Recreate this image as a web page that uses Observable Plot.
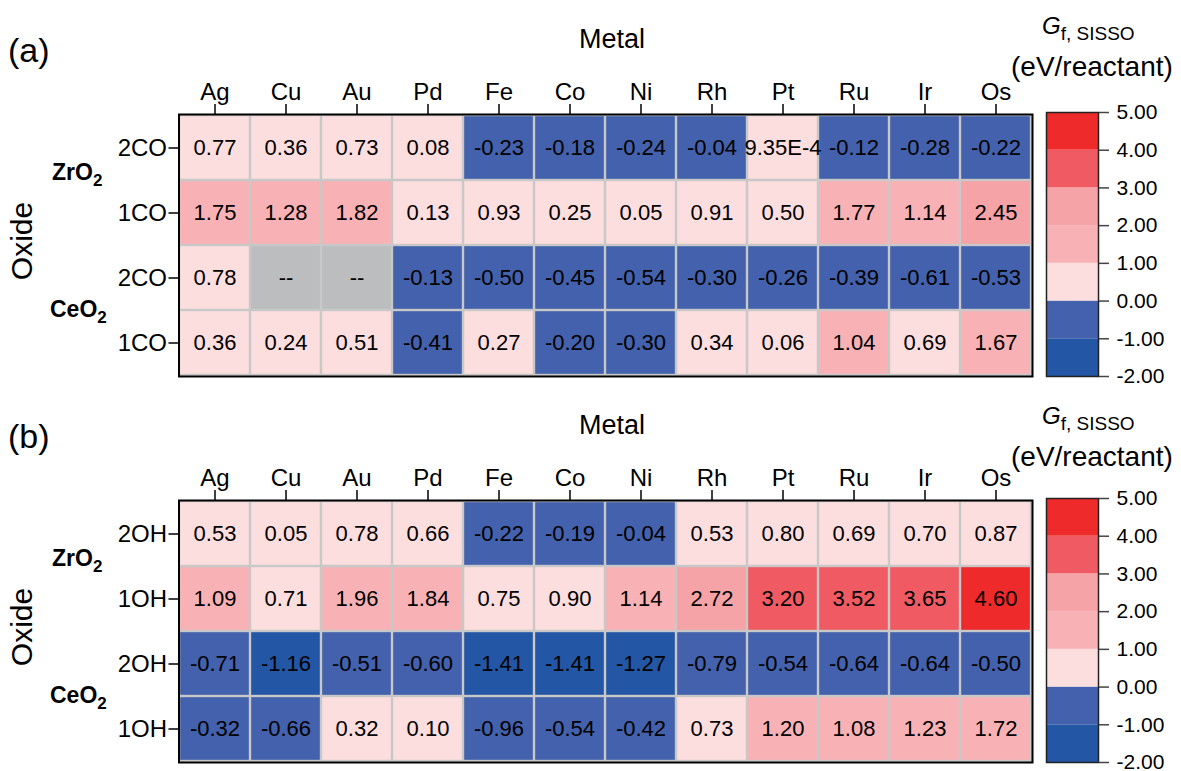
<!DOCTYPE html>
<html>
<head>
<meta charset="utf-8">
<script src="https://cdn.jsdelivr.net/npm/d3@7"></script>
<script src="https://cdn.jsdelivr.net/npm/@observablehq/plot@0.6"></script>
<style>
  body { margin: 0; background: #fff; }
  #fig { position: relative; width: 1181px; height: 771px; overflow: hidden; background: #fff;
         font-family: Arial, "Liberation Sans", sans-serif; color: #000; }
  #fig svg { overflow: visible; }
  .abs { position: absolute; white-space: nowrap; line-height: 1; }
  .oxide { font-weight: bold; font-size: 23px; }
  .oxide sub { font-size: 17px; vertical-align: -6px; line-height: 0; }
</style>
</head>
<body>
<div id="fig"></div>
<script>
// Metals along the top axis
const metals = ["Ag", "Cu", "Au", "Pd", "Fe", "Co", "Ni", "Rh", "Pt", "Ru", "Ir", "Os"];

// Row keys (oxide + adsorbate count); the axis shows only the adsorbate part
const rowsCO = ["ZrO2 2CO", "ZrO2 1CO", "CeO2 2CO", "CeO2 1CO"];
const rowsOH = ["ZrO2 2OH", "ZrO2 1OH", "CeO2 2OH", "CeO2 1OH"];

// Formation free energies, G_f,SISSO (eV/reactant); null = not available
const zr2CO = [0.77, 0.36, 0.73, 0.08, -0.23, -0.18, -0.24, -0.04, 0.000935, -0.12, -0.28, -0.22];
const zr1CO = [1.75, 1.28, 1.82, 0.13, 0.93, 0.25, 0.05, 0.91, 0.50, 1.77, 1.14, 2.45];
const ce2CO = [0.78, null, null, -0.13, -0.50, -0.45, -0.54, -0.30, -0.26, -0.39, -0.61, -0.53];
const ce1CO = [0.36, 0.24, 0.51, -0.41, 0.27, -0.20, -0.30, 0.34, 0.06, 1.04, 0.69, 1.67];

const zr2OH = [0.53, 0.05, 0.78, 0.66, -0.22, -0.19, -0.04, 0.53, 0.80, 0.69, 0.70, 0.87];
const zr1OH = [1.09, 0.71, 1.96, 1.84, 0.75, 0.90, 1.14, 2.72, 3.20, 3.52, 3.65, 4.60];
const ce2OH = [-0.71, -1.16, -0.51, -0.60, -1.41, -1.41, -1.27, -0.79, -0.54, -0.64, -0.64, -0.50];
const ce1OH = [-0.32, -0.66, 0.32, 0.10, -0.96, -0.54, -0.42, 0.73, 1.20, 1.08, 1.23, 1.72];

// Color bar bins and tick values
const binEdges = [-2, -1, 0, 1, 2, 3, 4, 5];
const binColors = ["#2356a4", "#4361ac", "#fcdede", "#f8b2b6", "#f5a3a6", "#f05a62", "#ee2a2b"];
const barTicks = [-2, -1, 0, 1, 2, 3, 4, 5];

const FONT = 'Arial, "Liberation Sans", sans-serif';
const GRID = "#c8c8c8";
const MISSING = "#bcbdbf";

const colorScale = { type: "threshold", domain: binEdges.slice(1, -1), range: binColors };

const fmt = v => v == null ? "--" : (v !== 0 && Math.abs(v) < 0.005 ? v.toExponential(2).toUpperCase() : v.toFixed(2));

const fig = document.getElementById("fig");

function place(node, left, top) {
  node.style.position = "absolute";
  node.style.left = left + "px";
  node.style.top = top + "px";
  fig.appendChild(node);
}
function label(html, left, top, style) {
  const d = document.createElement("div");
  d.className = "abs";
  d.innerHTML = html;
  Object.assign(d.style, style || {});
  d.style.left = left + "px";
  d.style.top = top + "px";
  fig.appendChild(d);
  return d;
}

function heatmap(rows, series) {
  const data = [];
  rows.forEach((r, i) => metals.forEach((m, j) => data.push({ row: r, metal: m, v: series[i][j] })));
  return Plot.plot({
    width: 1040, height: 386,
    marginLeft: 178.5, marginRight: 8, marginTop: 114, marginBottom: 10,
    x: { domain: metals, padding: 0, label: null },
    y: { domain: rows, padding: 0, label: null },
    color: colorScale,
    style: { fontFamily: FONT, fontSize: "24px", color: "#000", background: "transparent" },
    marks: [
      Plot.frame({ fill: GRID }),
      Plot.cell(data.filter(d => d.v != null), { x: "metal", y: "row", fill: "v", inset: 1.2 }),
      Plot.cell(data.filter(d => d.v == null), { x: "metal", y: "row", fill: MISSING, inset: 1.2 }),
      Plot.text(data, { x: "metal", y: "row", text: d => fmt(d.v), fontSize: 22, fill: "#000" }),
      Plot.frame({ stroke: "#000", strokeWidth: 2 }),
      Plot.axisX({ anchor: "top", tickSize: 11, tickPadding: 4, fontSize: 24, strokeWidth: 1.5, label: null }),
      Plot.axisY({ anchor: "left", tickSize: 10, tickPadding: 2, fontSize: 24, strokeWidth: 1.5,
                   tickFormat: d => d.split(" ")[1], label: null })
    ]
  });
}

function colorbar() {
  const bins = binEdges.slice(0, -1).map((lo, i) => ({ lo, hi: binEdges[i + 1] }));
  return Plot.plot({
    width: 137, height: 386,
    marginLeft: 2, marginRight: 83, marginTop: 112, marginBottom: 10,
    x: { domain: [0, 1], axis: null },
    y: { domain: [-2, 5], label: null },
    color: colorScale,
    style: { fontFamily: FONT, fontSize: "21px", color: "#000", background: "transparent" },
    marks: [
      Plot.rect(bins, { x1: 0, x2: 1, y1: "lo", y2: "hi", fill: "lo" }),
      Plot.frame({ stroke: "#222", strokeWidth: 1.5 }),
      Plot.axisY({ anchor: "right", ticks: barTicks, tickSize: 10, tickPadding: 8, fontSize: 21,
                   stroke: "#444", strokeWidth: 1.5, tickFormat: d => d.toFixed(2), label: null })
    ]
  });
}

const panels = [
  { tag: "(a)", rows: rowsCO, series: [zr2CO, zr1CO, ce2CO, ce1CO], dy: 0, ldy: 0 },
  { tag: "(b)", rows: rowsOH, series: [zr2OH, zr1OH, ce2OH, ce1OH], dy: 386, ldy: 390 }
];

for (const p of panels) {
  place(heatmap(p.rows, p.series), 0, p.dy);
  place(colorbar(), 1044, p.dy);

  label(p.tag, 8, 33 + p.dy, { fontSize: "34px" });
  label("Metal", 612, 26 + p.dy, { fontSize: "27px", transform: "translateX(-50%)" });
  label("Oxide", 22, 241 + p.dy, { fontSize: "30px", transform: "translate(-50%,-50%) rotate(-90deg)" });
  label('ZrO<sub>2</sub>', 52, 160.5 + p.dy, {}).className = "abs oxide";
  label('CeO<sub>2</sub>', 50, 297.5 + p.dy, {}).className = "abs oxide";

  label('<i>G</i><sub style="font-size:19px;vertical-align:-6px;line-height:0">f, SISSO</sub>',
        1042, 14 + p.ldy, { fontSize: "24px" });
  label("(eV/reactant)", 1011, 53 + p.ldy, { fontSize: "28px" });
}
</script>
</body>
</html>
